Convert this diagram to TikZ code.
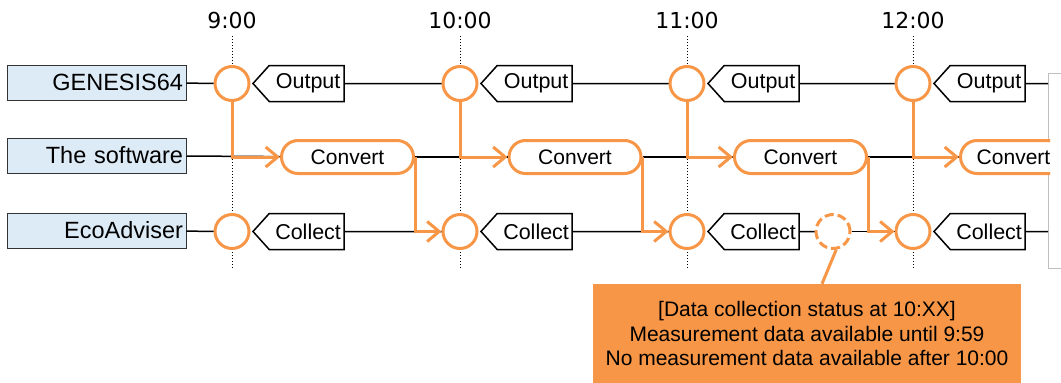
\documentclass[tikz,border=0pt]{standalone}
\usepackage{fontspec}
\setmainfont{Liberation Sans}
\newfontfamily\timefont{DejaVu Sans}
\usetikzlibrary{shapes.symbols,arrows.meta}
\definecolor{ecoorange}{HTML}{F79646}
\definecolor{laneblue}{HTML}{DDEBF7}

\begin{document}
\begin{tikzpicture}[x=1pt,y=-1pt,
		lane/.style = {draw=black!80,line width=1pt,fill=laneblue,minimum width=179pt,minimum height=35pt,text width=173pt,inner sep=3pt,align=right,font=\fontsize{23.5}{26}\selectfont},
		hour/.style = {font=\timefont\fontsize{22}{24}\selectfont},
		tick/.style = {circle,draw=ecoorange,line width=3pt,fill=white,minimum size=34pt,inner sep=0pt},
		missing/.style = {tick,dash pattern=on 9pt off 4pt},
		tag/.style = {signal,signal to=west,signal pointer angle=96,draw,line width=1.5pt,fill=white,minimum width=91pt,minimum height=36pt,inner sep=2pt,font=\fontsize{21.5}{24}\selectfont,anchor=west},
		job/.style = {rectangle,rounded corners=16.5pt,draw=ecoorange,line width=3pt,fill=white,minimum width=132pt,minimum height=33pt,font=\fontsize{21}{24}\selectfont},
		wire/.style = {line width=1.5pt},
		flow/.style = {draw=ecoorange,line width=3pt,-{Straight Barb[length=12pt,width=20pt]}},
		guide/.style = {line width=1pt,dash pattern=on 1pt off 2pt}]
		\useasboundingbox (0,0) rectangle (1061,383);

		% hours and dotted guides
		\node[hour] (t9) at (232,20) {9:00};
		\node[hour] (t10) at (460,20) {10:00};
		\node[hour] (t11) at (687,20) {11:00};
		\node[hour] (t12) at (913,20) {12:00};
		\coordinate (b9) at (232,268);
		\coordinate (b10) at (460,268);
		\coordinate (b11) at (687,268);
		\coordinate (b12) at (913,268);
		\draw[guide] ([yshift=-4pt]t9.south) -- (b9);
		\draw[guide] ([yshift=-4pt]t10.south) -- (b10);
		\draw[guide] ([yshift=-4pt]t11.south) -- (b11);
		\draw[guide] ([yshift=-4pt]t12.south) -- (b12);

		% lanes
		\node[lane] (gen) at (96.5,82.5) {GENESIS64};
		\node[lane] (sw) at (96.5,155.5) {The software};
		\node[lane] (eco) at (96.5,230.5) {EcoAdviser};

		% cut-off panel at the right
		\node[draw=black!25,line width=1pt,fill=white,minimum width=40pt,minimum height=195pt,anchor=north west] (panel) at (1048,73) {};

		% GENESIS64 output
		\node[tick] (g9) at (232,83.5) {};
		\node[tick] (g10) at (460,83.5) {};
		\node[tick] (g11) at (687,83.5) {};
		\node[tick] (g12) at (913,83.5) {};
		\node[tag] (o9) at ([xshift=1.5pt]g9.east) {\hspace{3pt}Output};
		\node[tag] (o10) at ([xshift=1.5pt]g10.east) {\hspace{3pt}Output};
		\node[tag] (o11) at ([xshift=1.5pt]g11.east) {\hspace{3pt}Output};
		\node[tag] (o12) at ([xshift=1.5pt]g12.east) {\hspace{3pt}Output};

		% conversion
		\node[job] (v9) at (347.5,157) {Convert};
		\node[job] (v10) at (575,157) {Convert};
		\node[job] (v11) at (800.5,157) {Convert};
		\begin{scope}
			\clip (940,130) rectangle (1050,185);
			\node[job,minimum width=106pt] (v12) at (1013.5,157) {Convert};
		\end{scope}

		% EcoAdviser collection
		\node[tick] (e9) at (232,231.5) {};
		\node[tick] (e10) at (460,231.5) {};
		\node[tick] (e11) at (687,231.5) {};
		\node[tick] (e12) at (913,231.5) {};
		\node[missing] (ex) at (833,231.5) {};
		\node[tag] (c9) at ([xshift=1.5pt]e9.east) {\hspace{3pt}Collect};
		\node[tag] (c10) at ([xshift=1.5pt]e10.east) {\hspace{3pt}Collect};
		\node[tag] (c11) at ([xshift=1.5pt]e11.east) {\hspace{3pt}Collect};
		\node[tag] (c12) at ([xshift=1.5pt]e12.east) {\hspace{3pt}Collect};

		\draw[wire] (gen) -- (g9);
		\draw[wire] (o9) -- (g10);
		\draw[wire] (o10) -- (g11);
		\draw[wire] (o11) -- (g12);
		\draw[wire] (o12) -- (o12 -| panel.west);
		\draw[wire] (sw) -- (v9);
		\draw[wire] (v9) -- (v10);
		\draw[wire] (v10) -- (v11);
		\draw[wire] (v11) -- (v12);
		\draw[wire] (eco) -- (e9);
		\draw[wire] (c9) -- (e10);
		\draw[wire] (c10) -- (e11);
		\draw[wire] (c11) -- (ex);
		\draw[wire] (ex) -- (e12);
		\draw[wire] (c12) -- (c12 -| panel.west);

		% data flow
		\draw[flow] (g9.south) |- (v9.west);
		\draw[flow] (v9.east) |- (e10.west);
		\draw[flow] (g10.south) |- (v10.west);
		\draw[flow] (v10.east) |- (e11.west);
		\draw[flow] (g11.south) |- (v11.west);
		\draw[flow] (v11.east) |- (e12.west);
		\draw[flow] (g12.south) |- (v12.west);

		% note
		\node[fill=ecoorange,minimum width=428pt,minimum height=99pt,align=center,font=\fontsize{21}{24.5}\selectfont] (note) at (807,333.5) {[Data collection status at 10:XX]\\Measurement data available until 9:59\\No measurement data available after 10:00};
		\draw[ecoorange,line width=3pt] (ex.-80) -- ([xshift=15pt]note.north);
	\end{tikzpicture}
\end{document}
